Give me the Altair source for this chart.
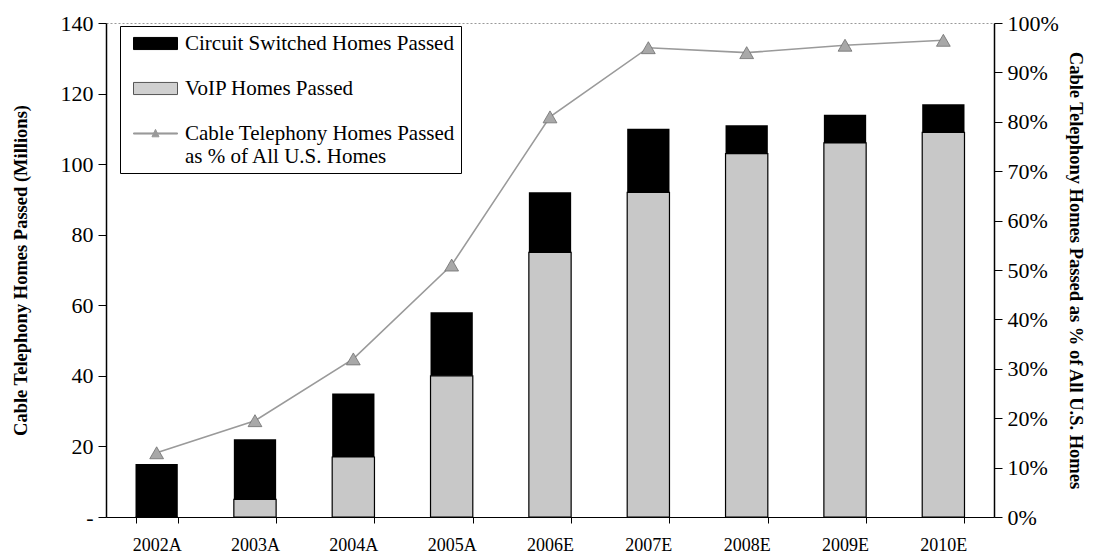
import altair as alt
import pandas as pd

cats = ["2002A", "2003A", "2004A", "2005A", "2006E", "2007E", "2008E", "2009E", "2010E"]
voip = [0, 5, 17, 40, 75, 92, 103, 106, 109]
circuit = [15, 17, 18, 18, 17, 18, 8, 8, 8]
pct = [13, 19.5, 32, 51, 81, 95, 94, 95.5, 96.5]

s_circ = "Circuit Switched Homes Passed"
s_voip = "VoIP Homes Passed"
s_line = "Cable Telephony Homes Passed"
series = [s_circ, s_voip, s_line]

FONT = "Liberation Serif"

df = pd.DataFrame({"cat": cats, "voip": voip, "circuit": circuit, "pct": pct})
legend_df = pd.DataFrame({"series": series, "pct": [None, None, None]})

x_enc = alt.X(
    "cat:N",
    sort=cats,
    scale=alt.Scale(paddingInner=0.57, paddingOuter=0.3),
    axis=alt.Axis(
        title=None, labelAngle=0, tickBand="extent", tickSize=6, tickColor="black",
        domainColor="black", labelFont=FONT, labelFontSize=18, labelColor="black",
        labelPadding=13, grid=False,
    ),
)

left_axis = alt.Axis(
    title="Cable Telephony Homes Passed (Millions)",
    values=[0, 20, 40, 60, 80, 100, 120, 140],
    labelExpr="datum.value == 0 ? '-' : datum.label",
    labelFont=FONT, labelFontSize=22, labelColor="black", labelPadding=5,
    tickSize=8, tickColor="black", domainColor="black", domainWidth=1.5,
    titleFont=FONT, titleFontSize=18.5, titleFontWeight="bold", titleColor="black",
    titlePadding=30, grid=False,
)

right_axis = alt.Axis(
    title="Cable Telephony Homes Passed as % of All U.S. Homes",
    orient="right",
    values=[0, 10, 20, 30, 40, 50, 60, 70, 80, 90, 100],
    labelExpr="datum.value + '%'",
    labelFont=FONT, labelFontSize=22, labelColor="black", labelPadding=5,
    tickSize=8, tickColor="black", domainColor="black", domainWidth=1.5,
    titleFont=FONT, titleFontSize=18.5, titleFontWeight="bold", titleColor="black",
    titlePadding=7, grid=False,
)

base = alt.Chart(df)

voip_bar = base.mark_bar(color="#c8c8c8", stroke="black", strokeWidth=1.2).encode(
    x=x_enc,
    y=alt.Y("voip:Q", scale=alt.Scale(domain=[0, 140]), axis=left_axis),
)
circ_bar = base.transform_calculate(total="datum.voip + datum.circuit").mark_bar(
    color="black"
).encode(
    x=x_enc,
    y=alt.Y("voip:Q", scale=alt.Scale(domain=[0, 140]), axis=left_axis),
    y2="total:Q",
)
bars = alt.layer(voip_bar, circ_bar)

y_pct = alt.Y("pct:Q", scale=alt.Scale(domain=[0, 100]), axis=right_axis)

line = base.mark_line(color="#9a9a9a", strokeWidth=1.6).encode(x=x_enc, y=y_pct)
pts = base.mark_point(
    shape="triangle-up", filled=True, color="#a8a8a8", stroke="#6e6e6e",
    strokeWidth=0.8, size=190, opacity=1,
).encode(x=x_enc, y=y_pct)

rect_path = "M-2,-0.55H2V0.55H-2Z"
line_path = "M-2,-0.05H2V0.05H-2Z M0,-0.38L0.32,0.3H-0.32Z"

leg = alt.Legend(
    title=None, orient="none", legendX=14, legendY=3,
    labelFont=FONT, labelFontSize=21, labelColor="black", labelLimit=500,
    labelExpr="datum.label == 'Cable Telephony Homes Passed' ? ['Cable Telephony Homes Passed', 'as % of All U.S. Homes'] : datum.label",
    symbolSize=484, symbolStrokeWidth=1, rowPadding=23, labelOffset=18, symbolOffset=18,
    strokeColor="black", fillColor="white", padding=6, symbolOpacity=1,
)

dummy = alt.Chart(legend_df).mark_point(filled=True, opacity=1).encode(
    y=y_pct,
    color=alt.Color("series:N", scale=alt.Scale(domain=series, range=["black", "#d0d0d0", "#9a9a9a"]), legend=leg),
    shape=alt.Shape("series:N", scale=alt.Scale(domain=series, range=[rect_path, rect_path, line_path]), legend=leg),
    stroke=alt.Stroke("series:N", scale=alt.Scale(domain=series, range=["black", "#555555", "#9a9a9a"]), legend=leg),
)

lines = alt.layer(line, pts, dummy)

chart = alt.layer(bars, lines).resolve_scale(y="independent").properties(
    width=888, height=494,
    padding={"left": 3, "top": 4, "right": 0, "bottom": 0},
).configure_view(stroke="#999999", strokeDash=[2, 2], strokeWidth=1)

chart.save("out.html", embed_options={"renderer": "svg", "actions": False})
